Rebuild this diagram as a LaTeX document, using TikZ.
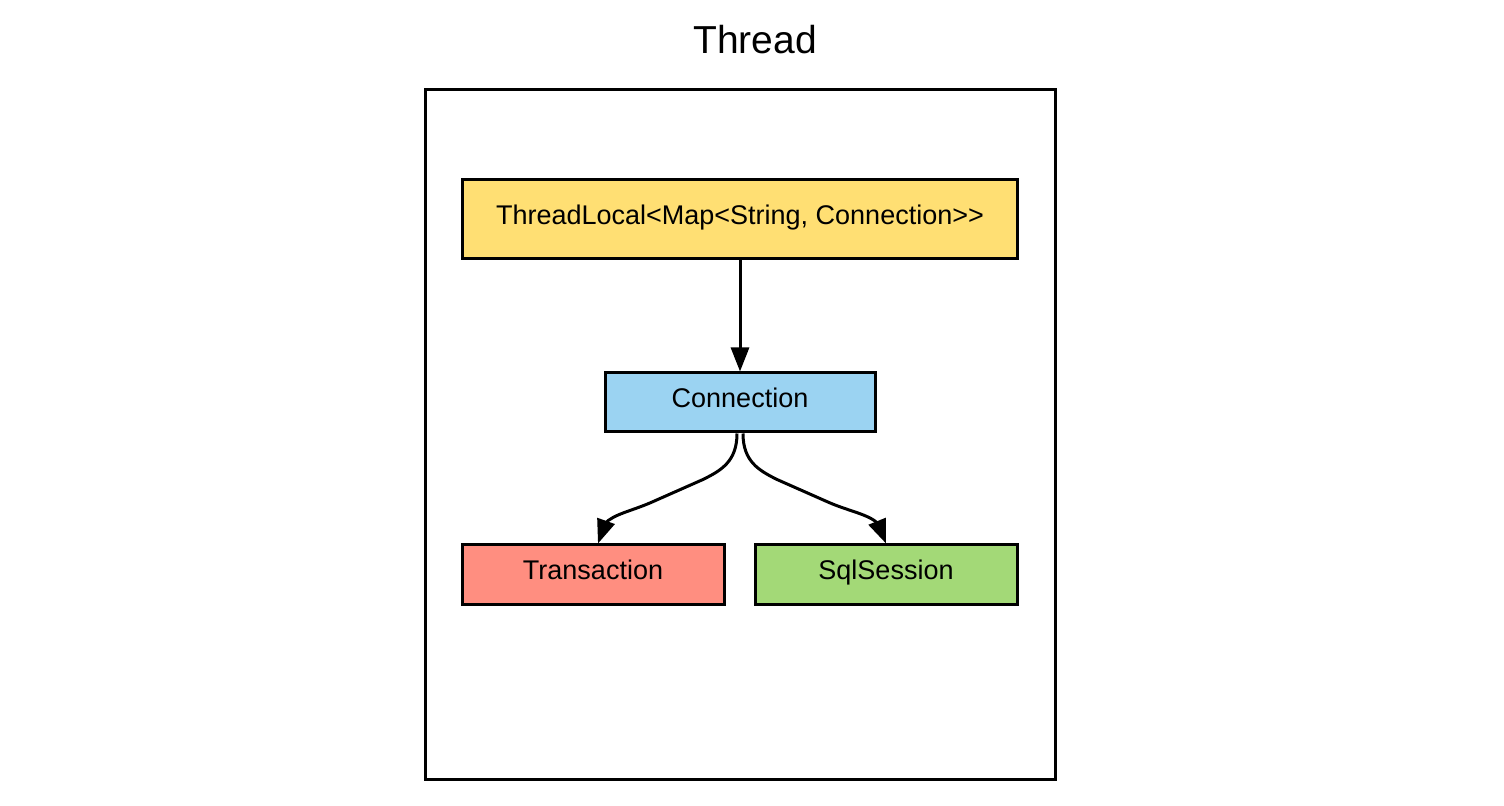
\documentclass[tikz,border=0pt]{standalone}
\usepackage{fontspec}
\setmainfont{Liberation Sans}
\usetikzlibrary{arrows.meta,bending}
\definecolor{tlYellow}{HTML}{FFDF73}
\definecolor{connBlue}{HTML}{9BD3F2}
\definecolor{txRed}{HTML}{FF8E80}
\definecolor{sessGreen}{HTML}{A3D977}

\begin{document}
\begin{tikzpicture}[x=0.5pt,y=-0.5pt,
    box/.style={draw,line width=1.5pt,inner sep=0pt,text height=0.72em,text depth=0.21em,
      font=\fontsize{13.5}{16}\selectfont},
    flow/.style={line width=1.5pt,-{Triangle[length=12pt,width=9pt,flex]}}]
  \useasboundingbox (0,0) rectangle (1504,806);
  \node[font=\fontsize{19.5}{23}\selectfont] (title) at (755,40) {Thread};
  \draw[line width=1.5pt] (425,90) rectangle (1055,779);

  \node[box,fill=tlYellow,minimum width=277.5pt,minimum height=39.5pt] (tl) at (740,219.5)
    {ThreadLocal<Map<String, Connection>{}>};
  \node[box,fill=connBlue,minimum width=135pt,minimum height=29.5pt] (conn) at (740,402.5) {Connection};
  \node[box,fill=txRed,minimum width=131pt,minimum height=29.5pt] (trans) at (593,574.5) {Transaction};
  \node[box,fill=sessGreen,minimum width=131pt,minimum height=29.5pt] (sess) at (886,574.5) {SqlSession};

  \draw[flow] (tl.south) -- (conn.north);
  % connection splits into transaction and session
  \draw[flow] ([xshift=-1.5pt]conn.south) .. controls +(0,28) and +(18,-9) .. ++(-34,46) -- ++(-52,23)
    .. controls +(-30,13) and +(0,-28) .. ([xshift=2.5pt]trans.north);
  \draw[flow] ([xshift=1.5pt]conn.south) .. controls +(0,28) and +(-18,-9) .. ++(34,46) -- ++(52,23)
    .. controls +(30,13) and +(0,-28) .. (sess.north);
\end{tikzpicture}
\end{document}
